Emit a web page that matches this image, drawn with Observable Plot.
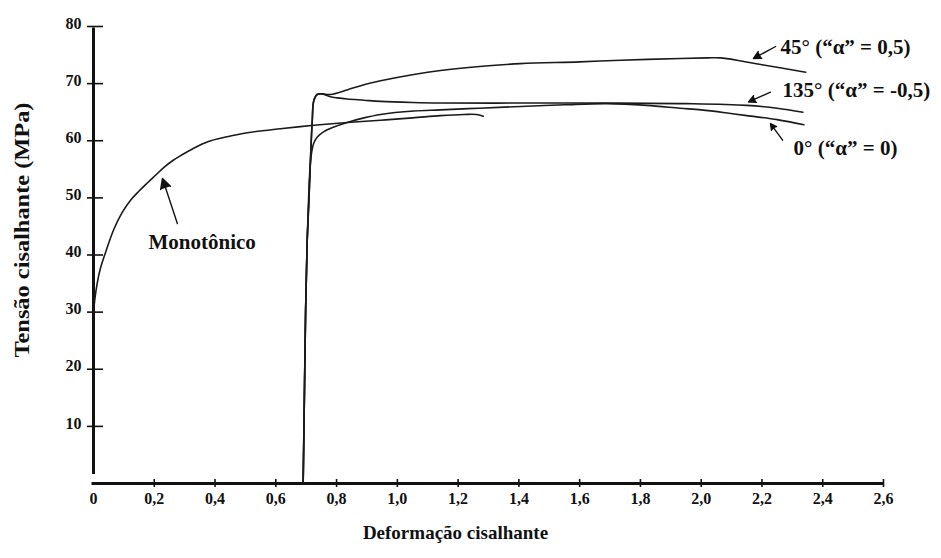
<!DOCTYPE html>
<html><head><meta charset="utf-8">
<script src="https://cdn.jsdelivr.net/npm/d3@7"></script>
<script src="https://cdn.jsdelivr.net/npm/@observablehq/plot@0.6"></script>
<style>
html,body{margin:0;padding:0;background:#fff;}
#chart svg{display:block;}
</style></head><body><div id="chart"></div>
<script>
// Tick values
const xTicks = [0.2, 0.4, 0.6, 0.8, 1.0, 1.2, 1.4, 1.6, 1.8, 2.0, 2.2, 2.4, 2.6];
const yTicks = [10, 20, 30, 40, 50, 60, 70, 80];

// Monotonic curve
const monoX = [0, 0.005, 0.012, 0.022, 0.04, 0.067, 0.095, 0.122, 0.15, 0.177, 0.205, 0.231, 0.26, 0.29, 0.33, 0.374, 0.44, 0.506, 0.615, 0.725, 0.835, 0.945, 1.05, 1.142, 1.22, 1.26, 1.283];
const monoY = [30, 32.5, 35, 37.5, 40.5, 44.5, 47.5, 49.6, 51.2, 52.6, 54.0, 55.3, 56.5, 57.5, 58.7, 59.8, 60.7, 61.4, 62.1, 62.7, 63.2, 63.6, 64.0, 64.4, 64.6, 64.6, 64.3];

// 0° ("α" = 0)
const zeroX = [0.69, 0.694, 0.698, 0.703, 0.708, 0.713, 0.719, 0.725, 0.736, 0.758, 0.791, 0.835, 0.89, 0.945, 1.054, 1.142, 1.27, 1.405, 1.55, 1.69, 1.82, 1.93, 2.0, 2.08, 2.15, 2.25, 2.338];
const zeroY = [0, 15, 30, 42, 50, 55.5, 58.3, 59.6, 60.6, 61.6, 62.4, 63.2, 64.0, 64.6, 65.2, 65.4, 65.7, 66.0, 66.3, 66.5, 66.2, 65.7, 65.4, 64.9, 64.4, 63.7, 62.8];

// 45° ("α" = 0,5)
const f45X = [0.69, 0.694, 0.698, 0.703, 0.709, 0.714, 0.72, 0.725, 0.736, 0.753, 0.78, 0.835, 0.89, 0.945, 1.054, 1.142, 1.27, 1.405, 1.6, 1.735, 1.932, 2.02, 2.064, 2.2, 2.344];
const f45Y = [0, 15, 30, 42, 49.6, 56.6, 63.6, 67, 68.1, 68.2, 68.1, 68.9, 69.8, 70.5, 71.6, 72.3, 73.0, 73.5, 73.8, 74.1, 74.4, 74.5, 74.5, 73.3, 72.0];

// 135° ("α" = -0,5)
const f135X = [0.69, 0.694, 0.698, 0.703, 0.709, 0.714, 0.72, 0.725, 0.736, 0.753, 0.78, 0.802, 0.835, 0.89, 0.945, 1.05, 1.142, 1.4, 1.7, 1.95, 2.15, 2.25, 2.335];
const f135Y = [0, 15, 30, 42, 49.6, 56.6, 63.6, 67, 68.1, 68.2, 67.7, 67.5, 67.3, 67.1, 66.9, 66.7, 66.6, 66.6, 66.6, 66.5, 66.2, 65.7, 65.0];

// Annotations (data units)
const annLabels = ["Monotônico", "45° (“α” = 0,5)", "135° (“α” = -0,5)", "0° (“α” = 0)"];
const annTextX = [0.181, 2.261, 2.268, 2.304];
const annTextY = [42.2, 76.4, 68.8, 58.7];
const annFrom = [[0.276, 45.5], [2.245, 76.5], [2.228, 68.5], [2.268, 60.1]];
const annTo = [[0.227, 53.4], [2.172, 74.4], [2.156, 66.8], [2.228, 63.0]];

const yTitle = "Tensão cisalhante (MPa)";
const xTitle = "Deformação cisalhante";

const rows = (name, xs, ys) => xs.map((x, i) => ({series: name, x, y: ys[i]}));
const curves = [
  ...rows("mono", monoX, monoY),
  ...rows("0", zeroX, zeroY),
  ...rows("45", f45X, f45Y),
  ...rows("135", f135X, f135Y)
];
const texts = annLabels.map((t, i) => ({t, x: annTextX[i], y: annTextY[i]}));
const arrows = annFrom.map((f, i) => ({x1: f[0], y1: f[1], x2: annTo[i][0], y2: annTo[i][1]}));

const fmt = d => d === 0 ? "0" : d.toFixed(1).replace(".", ",");

const plot = Plot.plot({
  width: 941, height: 558,
  marginLeft: 93, marginRight: 58, marginTop: 26, marginBottom: 75,
  x: {domain: [0, 2.6]},
  y: {domain: [0, 80]},
  style: {fontFamily: "'Liberation Serif', 'Times New Roman', serif", fontWeight: "bold", fontSize: "16px", color: "#111", background: "#fff"},
  marks: [
    Plot.axisX({ticks: [0, ...xTicks], tickSize: 0, tickPadding: 9, tickFormat: fmt, label: null}),
    Plot.axisY({ticks: yTicks, tickSize: 0, tickPadding: 12, dy: -3, label: null}),
    Plot.ruleX(xTicks, {x: d => d, y1: 0, y2: 0, insetTop: -4, insetBottom: -4, strokeWidth: 1.6, stroke: "#111"}),
    Plot.ruleY(yTicks, {y: d => d, x1: 0, x2: 0, insetLeft: -6, insetRight: -10, strokeWidth: 1.6, stroke: "#111"}),
    Plot.ruleX([0], {y1: 0, y2: 80, insetTop: -9, insetBottom: -1.5, strokeWidth: 3, stroke: "#111"}),
    Plot.ruleY([0], {strokeWidth: 3, stroke: "#111", insetLeft: -1.5}),
    Plot.line(curves, {x: "x", y: "y", z: "series", stroke: "#1a1a1a", strokeWidth: 1.6, curve: "catmull-rom"}),
    Plot.arrow(arrows, {x1: "x1", y1: "y1", x2: "x2", y2: "y2", stroke: "#111", strokeWidth: 1.4, headLength: 12, headAngle: 55}),
    Plot.text(texts, {x: "x", y: "y", text: "t", textAnchor: "start", fontSize: 21, fill: "#111"}),
    Plot.text([xTitle], {frameAnchor: "bottom", dx: -33, dy: 55, fontSize: 19, fill: "#111"}),
    Plot.text([yTitle], {frameAnchor: "left", textAnchor: "middle", rotate: -90, dx: -71, dy: -25, fontSize: 21, fill: "#111"})
  ]
});
// filled arrowheads
d3.select(plot).selectAll("g[aria-label='arrow'] path").attr("fill", "#111").style("fill", "#111");
// stretch y title (original image is vertically stretched)
d3.select(plot).selectAll("text").filter(function() { return this.textContent === yTitle; })
  .attr("textLength", 255).attr("lengthAdjust", "spacingAndGlyphs");
document.getElementById("chart").appendChild(plot);
</script>
</body></html>
